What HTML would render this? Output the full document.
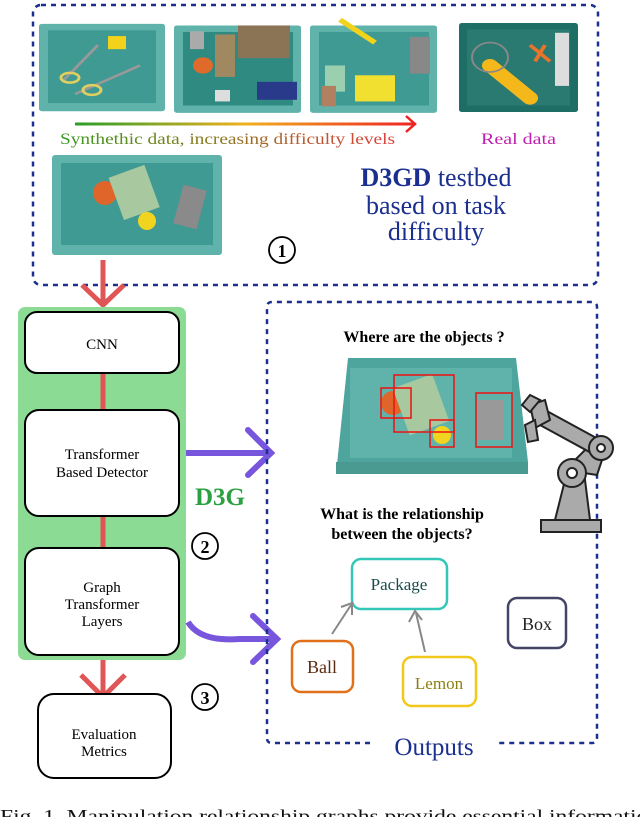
<!DOCTYPE html>
<html><head><meta charset="utf-8"><style>
html,body{margin:0;padding:0;background:#fff}
svg{display:block}
text{font-family:"Liberation Serif",serif}
</style></head><body>
<svg width="640" height="817" viewBox="0 0 640 817" xmlns="http://www.w3.org/2000/svg">
<defs>
<linearGradient id="g1" gradientUnits="userSpaceOnUse" x1="75" y1="0" x2="415" y2="0"><stop offset="0" stop-color="#2a9d2a"/><stop offset="0.5" stop-color="#f0b020"/><stop offset="1" stop-color="#ee2222"/></linearGradient>
<linearGradient id="g2" gradientUnits="userSpaceOnUse" x1="60" y1="0" x2="395" y2="0"><stop offset="0" stop-color="#3a9a20"/><stop offset="0.45" stop-color="#8a7a20"/><stop offset="1" stop-color="#e04040"/></linearGradient>
</defs>
<rect x="33" y="5" width="565" height="280" rx="8" fill="none" stroke="#1a2f8f" stroke-width="2.5" stroke-dasharray="5,5"/>
<g transform="translate(0,23) scale(1,0.817) translate(0,-28)">
<rect x="39" y="29" width="126" height="107" rx="3" fill="#5fb3ab"/><rect x="48" y="37" width="108" height="89" fill="#3e9a92"/>
<rect x="108" y="44" width="18" height="16" fill="#f2d21a"/>
<path d="M62 100 L98 55 M75 115 L140 80" stroke="#999" stroke-width="3"/><ellipse cx="70" cy="95" rx="9" ry="6" fill="none" stroke="#e0cf60" stroke-width="3"/><ellipse cx="92" cy="110" rx="9" ry="6" fill="none" stroke="#e0cf60" stroke-width="3"/>
<rect x="174" y="31" width="127" height="107" rx="3" fill="#5fb3ab"/><rect x="183" y="39" width="110" height="90" fill="#2f8a82"/>
<rect x="238" y="31" width="52" height="40" fill="#8a7455"/><rect x="215" y="42" width="20" height="52" fill="#a08860"/><circle cx="203" cy="80" r="10" fill="#e06a2a"/><rect x="257" y="100" width="40" height="22" fill="#2a3a8a"/><rect x="190" y="38" width="14" height="22" fill="#aaa"/><rect x="215" y="110" width="15" height="14" fill="#ddd"/>
<rect x="310" y="31" width="127" height="107" rx="3" fill="#5fb3ab"/><rect x="319" y="39" width="110" height="90" fill="#3e9a92"/>
<rect x="355" y="92" width="40" height="32" fill="#f2e030"/><rect x="410" y="45" width="20" height="45" fill="#888"/><rect x="325" y="80" width="20" height="32" fill="#9ad0b0"/><path d="M340 24 L375 52" stroke="#f2d21a" stroke-width="6"/><rect x="322" y="105" width="14" height="25" fill="#b08060"/>
<rect x="459" y="28" width="119" height="109" rx="3" fill="#1f6e66"/><rect x="467" y="36" width="103" height="93" fill="#2a7a72"/>
<path d="M490 80 L530 120" stroke="#f5b81a" stroke-width="16" stroke-linecap="round"/><rect x="555" y="40" width="14" height="65" fill="#ddd"/><circle cx="490" cy="70" r="18" fill="none" stroke="#888" stroke-width="2"/><path d="M530 55 L550 75 M545 55 L535 75" stroke="#e8732a" stroke-width="4"/>
</g>
<line x1="75" y1="124" x2="414" y2="124" stroke="url(#g1)" stroke-width="3"/>
<path d="M406 116 L415 124 L406 132" fill="none" stroke="#ee2222" stroke-width="2.5"/>
<text x="60" y="144" font-size="16" fill="url(#g2)" textLength="335" lengthAdjust="spacingAndGlyphs">Synthethic data, increasing difficulty levels</text>
<text x="481" y="144" font-size="16" fill="#c020b0" textLength="75" lengthAdjust="spacingAndGlyphs">Real data</text>
<rect x="52" y="155" width="170" height="100" rx="3" fill="#5fb3ab"/><rect x="61" y="163" width="152" height="82" fill="#3e9a92"/>
<circle cx="105" cy="193" r="12" fill="#e0652a"/><rect x="115" y="170" width="38" height="45" fill="#a8c9a0" transform="rotate(-20 134 192)"/><circle cx="147" cy="221" r="9" fill="#f0d420"/><rect x="178" y="187" width="24" height="40" fill="#8a8a8a" transform="rotate(15 190 207)"/>
<text x="436" y="186" font-size="26" fill="#1a2f8f" text-anchor="middle"><tspan font-weight="bold">D3GD</tspan> testbed</text>
<text x="436" y="214" font-size="26" fill="#1a2f8f" text-anchor="middle">based on task</text>
<text x="436" y="240" font-size="26" fill="#1a2f8f" text-anchor="middle">difficulty</text>
<circle cx="282" cy="250" r="13" fill="none" stroke="#000" stroke-width="1.8"/><text x="282" y="257" font-size="18" font-weight="bold" text-anchor="middle">1</text>
<line x1="103" y1="260" x2="103" y2="303" stroke="#e05555" stroke-width="5"/>
<path d="M82 285 L103 305 L124 285" fill="none" stroke="#e05555" stroke-width="5"/>
<rect x="18" y="307" width="168" height="353" rx="7" fill="#8cdb95"/>
<line x1="103" y1="373" x2="103" y2="410" stroke="#e05555" stroke-width="5"/>
<line x1="103" y1="516" x2="103" y2="548" stroke="#e05555" stroke-width="5"/>
<rect x="25" y="312" width="154" height="61" rx="12" fill="#fff" stroke="#000" stroke-width="2"/>
<text x="102" y="349" font-size="15" text-anchor="middle">CNN</text>
<rect x="25" y="410" width="154" height="106" rx="14" fill="#fff" stroke="#000" stroke-width="2"/>
<text x="102" y="459" font-size="15" text-anchor="middle">Transformer</text>
<text x="102" y="477" font-size="15" text-anchor="middle">Based Detector</text>
<rect x="25" y="548" width="154" height="107" rx="14" fill="#fff" stroke="#000" stroke-width="2"/>
<text x="102" y="592" font-size="15" text-anchor="middle">Graph</text>
<text x="102" y="609" font-size="15" text-anchor="middle">Transformer</text>
<text x="102" y="626" font-size="15" text-anchor="middle">Layers</text>
<line x1="103" y1="660" x2="103" y2="697" stroke="#e05555" stroke-width="5"/>
<path d="M81 675 L103 697 L125 675" fill="none" stroke="#e05555" stroke-width="5"/>
<rect x="38" y="694" width="133" height="84" rx="16" fill="#fff" stroke="#000" stroke-width="2"/>
<text x="104" y="739" font-size="15" text-anchor="middle">Evaluation</text>
<text x="104" y="756" font-size="15" text-anchor="middle">Metrics</text>
<line x1="186" y1="453" x2="270" y2="453" stroke="#7755dd" stroke-width="6"/>
<path d="M248 430 L271 453 L248 475" fill="none" stroke="#7755dd" stroke-width="6" stroke-linecap="round"/>
<path d="M188 622 Q200 642 240 639 L276 639" fill="none" stroke="#7755dd" stroke-width="6"/>
<path d="M253 616 L277 639 L253 662" fill="none" stroke="#7755dd" stroke-width="6" stroke-linecap="round"/>
<text x="195" y="505" font-size="25" font-weight="bold" fill="#2aa040">D3G</text>
<circle cx="205" cy="546" r="13" fill="none" stroke="#000" stroke-width="1.8"/><text x="205" y="553" font-size="18" font-weight="bold" text-anchor="middle">2</text>
<circle cx="205" cy="697" r="13" fill="none" stroke="#000" stroke-width="1.8"/><text x="205" y="704" font-size="18" font-weight="bold" text-anchor="middle">3</text>
<path d="M370 743 L272 743 Q267 743 267 738 L267 307 Q267 302 272 302 L592 302 Q597 302 597 307 L597 738 Q597 743 592 743 L496 743" fill="none" stroke="#1a2f8f" stroke-width="2.5" stroke-dasharray="5,5"/>
<text x="434" y="755" font-size="25" fill="#1a2f8f" text-anchor="middle">Outputs</text>
<text x="424" y="342" font-size="16" font-weight="bold" text-anchor="middle">Where are the objects ?</text>
<path d="M348 358 L516 358 L528 462 L336 474 Z" fill="#4ea59d"/><rect x="350" y="368" width="162" height="90" fill="#5fb3ab"/><rect x="336" y="462" width="192" height="12" fill="#4a9a92"/>
<circle cx="393" cy="403" r="12" fill="#e0652a"/><rect x="400" y="380" width="42" height="50" fill="#a8c9a0" transform="rotate(-20 420 405)"/><circle cx="442" cy="435" r="9" fill="#f0d420"/><rect x="478" y="400" width="26" height="40" fill="#999"/>
<g fill="none" stroke="#ee1111" stroke-width="1.5"><rect x="381" y="388" width="30" height="30"/><rect x="394" y="375" width="60" height="57"/><rect x="430" y="420" width="24" height="27"/><rect x="476" y="393" width="36" height="54"/></g>
<g stroke="#222" stroke-width="2" fill="#aaa">
<rect x="541" y="520" width="60" height="12"/>
<path d="M555 520 L565 480 L585 480 L590 520 Z"/>
<path d="M565 470 L597 475 L607 445 L595 440 Z"/>
<path d="M545 410 L600 440 L595 455 L540 425 Z"/>
<circle cx="601" cy="448" r="12"/><circle cx="601" cy="448" r="4" fill="#fff"/>
<circle cx="572" cy="473" r="14"/><circle cx="572" cy="473" r="5" fill="#fff"/>
<path d="M530 405 L545 400 L550 420 L535 428 Z"/>
<path d="M522 405 L530 395 L540 400 L530 412 Z M525 425 L535 420 L538 440 L528 442 Z"/>
</g>
<text x="402" y="519" font-size="16" font-weight="bold" text-anchor="middle">What is the relationship</text>
<text x="402" y="539" font-size="16" font-weight="bold" text-anchor="middle">between the objects?</text>
<rect x="352" y="559" width="95" height="50" rx="9" fill="#fff" stroke="#33c7b8" stroke-width="2.5"/>
<text x="399" y="590" font-size="17" fill="#1a4a4a" text-anchor="middle">Package</text>
<rect x="292" y="641" width="61" height="51" rx="9" fill="#fff" stroke="#e0701a" stroke-width="2.5"/>
<text x="322" y="673" font-size="18" fill="#5a2a10" text-anchor="middle">Ball</text>
<rect x="403" y="657" width="73" height="49" rx="9" fill="#fff" stroke="#f2c81a" stroke-width="2.5"/>
<text x="439" y="689" font-size="17" fill="#8a8010" text-anchor="middle">Lemon</text>
<rect x="508" y="598" width="58" height="50" rx="9" fill="#fff" stroke="#444466" stroke-width="2.5"/>
<text x="537" y="630" font-size="18" fill="#222" text-anchor="middle">Box</text>
<g stroke="#888" stroke-width="2" fill="none">
<line x1="332" y1="634" x2="351" y2="605"/><path d="M341 607 L352 603 L352 615"/>
<line x1="425" y1="652" x2="416" y2="613"/><path d="M409 622 L415 611 L422 620"/>
</g>
<text x="0" y="822" font-size="18" fill="#111" textLength="660" lengthAdjust="spacingAndGlyphs">Fig. 1.   Manipulation relationship graphs provide essential information</text>
</svg>
</body></html>
